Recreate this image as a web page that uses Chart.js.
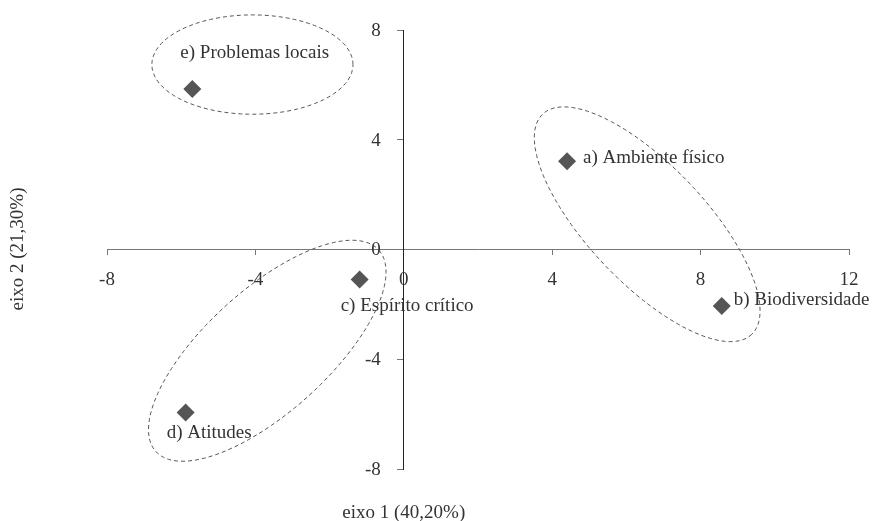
<!DOCTYPE html>
<html>
<head>
<meta charset="utf-8">
<script src="https://cdn.jsdelivr.net/npm/chart.js@4/dist/chart.umd.min.js"></script>
<style>
  html, body { margin: 0; padding: 0; background: #ffffff; }
  #wrap { width: 875px; height: 521px; position: relative; }
</style>
</head>
<body>
<div id="wrap"><canvas id="c" width="875" height="521"></canvas></div>
<script>
// ---- data ----
const pointLabels = ["a) Ambiente físico", "b) Biodiversidade", "c) Espírito crítico", "d) Atitudes", "e) Problemas locais"];
const eixo1 = [4.40, 8.57, -1.19, -5.88, -5.70];
const eixo2 = [3.22, -2.06, -1.09, -5.94, 5.85];

const xTicks = [-8, -4, 0, 4, 8, 12];
const yTicks = [-8, -4, 0, 4, 8];
const xTitle = "eixo 1 (40,20%)";
const yTitle = "eixo 2 (21,30%)";

// group ellipses in data units: centre and two conjugate semi-diameters
const ellipseCx = [6.56, -3.68, -4.08];
const ellipseCy = [0.92, -3.69, 6.74];
const ellipseUx = [2.82, 3.008, 2.71];
const ellipseUy = [-4.01, 3.666, 0];
const ellipseVx = [-1.142, 1.096, 0];
const ellipseVy = [-1.49, -1.667, 1.81];

// ---- styling ----
const FONT = "'Liberation Serif', 'Times New Roman', serif";
const FS = 19;
const TEXT = '#333333';
const labelOffsets = [[16, -3], [12, -6], [-19, 27], [-19, 21], [-12, -36]];

const overlay = {
  id: 'overlay',
  beforeDatasetsDraw(chart) {
    const ctx = chart.ctx, xs = chart.scales.x, ys = chart.scales.y;
    ctx.save();
    ctx.strokeStyle = '#555555';
    ctx.lineWidth = 1;
    ctx.setLineDash([4, 3]);
    for (let i = 0; i < ellipseCx.length; i++) {
      ctx.beginPath();
      const N = 160;
      for (let k = 0; k <= N; k++) {
        const t = 2 * Math.PI * k / N;
        const dx = ellipseCx[i] + Math.cos(t) * ellipseUx[i] + Math.sin(t) * ellipseVx[i];
        const dy = ellipseCy[i] + Math.cos(t) * ellipseUy[i] + Math.sin(t) * ellipseVy[i];
        const px = xs.getPixelForValue(dx), py = ys.getPixelForValue(dy);
        if (k === 0) ctx.moveTo(px, py); else ctx.lineTo(px, py);
      }
      ctx.closePath();
      ctx.stroke();
    }
    ctx.restore();
  },
  afterDatasetsDraw(chart) {
    const ctx = chart.ctx;
    const xs = chart.scales.x, ys = chart.scales.y;
    const meta = chart.getDatasetMeta(0);
    ctx.save();
    ctx.fillStyle = TEXT;
    ctx.font = FS + "px " + FONT;
    ctx.textBaseline = 'middle';
    ctx.textAlign = 'left';
    meta.data.forEach((el, i) => {
      ctx.fillText(pointLabels[i], el.x + labelOffsets[i][0], el.y + labelOffsets[i][1]);
    });
    // y tick labels, left of the centred axis
    ctx.textAlign = 'right';
    const axisX = xs.getPixelForValue(0);
    yTicks.forEach(v => {
      ctx.fillText(String(v), axisX - 23, ys.getPixelForValue(v) + 1);
    });
    // axis titles
    ctx.textAlign = 'center';
    ctx.fillText(xTitle, axisX, 513);
    ctx.translate(18, 249);
    ctx.rotate(-Math.PI / 2);
    ctx.fillText(yTitle, 0, 0);
    ctx.restore();
  }
};

new Chart(document.getElementById('c'), {
  type: 'scatter',
  data: {
    datasets: [{
      data: eixo1.map((x, i) => ({ x: x, y: eixo2[i] })),
      pointStyle: 'rectRot',
      pointRadius: 9,
      pointHoverRadius: 9,
      backgroundColor: '#555555',
      borderColor: '#555555',
      borderWidth: 0
    }]
  },
  options: {
    responsive: false,
    animation: false,
    devicePixelRatio: 1,
    layout: { padding: { left: 107, right: 26, top: 30, bottom: 52 } },
    plugins: { legend: { display: false }, tooltip: { enabled: false }, title: { display: false } },
    scales: {
      x: {
        type: 'linear',
        min: -8, max: 12,
        position: { y: 0 },
        afterBuildTicks: (s) => { s.ticks = xTicks.map(v => ({ value: v })); },
        grid: { drawOnChartArea: false, drawTicks: true, tickLength: 5, color: '#777777' },
        border: { display: true, color: '#777777', width: 1 },
        ticks: { color: TEXT, font: { family: FONT, size: FS }, padding: 14, maxRotation: 0 }
      },
      y: {
        type: 'linear',
        min: -8, max: 8,
        position: { x: 0 },
        afterBuildTicks: (s) => { s.ticks = yTicks.map(v => ({ value: v })); },
        grid: { drawOnChartArea: false, drawTicks: true, tickLength: 6, color: '#777777' },
        border: { display: true, color: '#222222', width: 1 },
        ticks: { display: false }
      }
    }
  },
  plugins: [overlay]
});
</script>
</body>
</html>
